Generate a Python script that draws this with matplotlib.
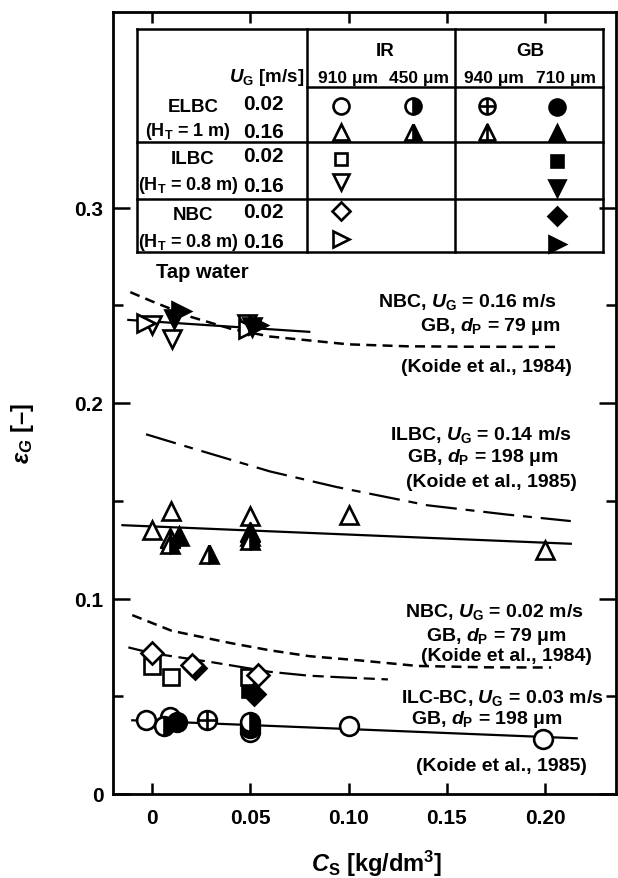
import matplotlib.pyplot as plt
import matplotlib.transforms as mtransforms
from matplotlib.path import Path
from matplotlib.lines import Line2D

plt.rcParams['font.family'] = ['Liberation Sans', 'DejaVu Sans']
plt.rcParams['font.weight'] = 'bold'
plt.rcParams['mathtext.fontset'] = 'custom'
plt.rcParams['mathtext.rm'] = 'Liberation Sans:bold'
plt.rcParams['mathtext.it'] = 'Liberation Sans:italic:bold'
plt.rcParams['mathtext.bf'] = 'Liberation Sans:bold'

# ---- data ----
# ELBC, U_G = 0.02
elbc02_ir910_x = [-0.003, 0.009, 0.05, 0.10, 0.199]
elbc02_ir910_y = [0.0377, 0.0395, 0.0316, 0.035, 0.028]
elbc02_ir450_x = [0.006, 0.05]
elbc02_ir450_y = [0.035, 0.037]
elbc02_gb940_x = [0.028]
elbc02_gb940_y = [0.0377]
elbc02_gb710_x = [0.013, 0.05]
elbc02_gb710_y = [0.037, 0.034]

# ELBC, U_G = 0.16
elbc16_ir910_x = [0.0, 0.0097, 0.05, 0.10, 0.20]
elbc16_ir910_y = [0.135, 0.1447, 0.142, 0.1425, 0.125]
elbc16_ir450_x = [0.009, 0.029, 0.05]
elbc16_ir450_y = [0.128, 0.123, 0.130]
elbc16_gb940_x = [0.009, 0.05]
elbc16_gb940_y = [0.131, 0.134]
elbc16_gb710_x = [0.014, 0.05]
elbc16_gb710_y = [0.132, 0.132]

# ILBC
ilbc02_ir910_x = [0.0, 0.0097, 0.0495]
ilbc02_ir910_y = [0.0657, 0.0596, 0.0596]
ilbc02_gb710_x = [0.05]
ilbc02_gb710_y = [0.0535]
ilbc16_ir910_x = [0.0, 0.010, 0.0485]
ilbc16_ir910_y = [0.240, 0.2328, 0.2404]
ilbc16_gb710_x = [0.011, 0.051]
ilbc16_gb710_y = [0.243, 0.239]

# NBC
nbc02_ir910_x = [0.0, 0.0204, 0.054]
nbc02_ir910_y = [0.072, 0.066, 0.061]
nbc02_gb710_x = [0.022, 0.052]
nbc02_gb710_y = [0.0645, 0.051]
nbc16_ir910_x = [-0.003, 0.049]
nbc16_ir910_y = [0.241, 0.238]
nbc16_gb710_x = [0.015, 0.054]
nbc16_gb710_y = [0.247, 0.240]

# fitted lines through the data (solid / long dash)
fit_nbc16_x = [-0.012, 0.080]
fit_nbc16_y = [0.2425, 0.2364]
fit_elbc16_x = [-0.015, 0.213]
fit_elbc16_y = [0.1375, 0.128]
fit_nbc02_x = [-0.012, 0.0, 0.02, 0.03, 0.045, 0.06, 0.08, 0.10, 0.12]
fit_nbc02_y = [0.075, 0.072, 0.069, 0.0675, 0.065, 0.0625, 0.0605, 0.0595, 0.0586]
fit_elbc02_x = [-0.010, 0.216]
fit_elbc02_y = [0.0377, 0.0285]

# literature curves
koide84_u16_x = [-0.011, 0.0, 0.02, 0.04, 0.06, 0.08, 0.10, 0.13, 0.16, 0.208]
koide84_u16_y = [0.2567, 0.252, 0.244, 0.238, 0.234, 0.232, 0.230, 0.229, 0.2288, 0.2287]
koide85_u14_x = [-0.003, 0.02, 0.04, 0.06, 0.094, 0.14, 0.18, 0.213]
koide85_u14_y = [0.184, 0.177, 0.171, 0.165, 0.157, 0.1477, 0.143, 0.1396]
koide84_u02_x = [-0.010, 0.01, 0.04, 0.06, 0.08, 0.106, 0.135, 0.17, 0.203]
koide84_u02_y = [0.0915, 0.0835, 0.0772, 0.0735, 0.0705, 0.0683, 0.0655, 0.0648, 0.0647]

x_ticks = [0, 0.05, 0.10, 0.15, 0.20]
x_ticklabels = ['0', '0.05', '0.10', '0.15', '0.20']
y_ticks = [0, 0.1, 0.2, 0.3]
y_ticklabels = ['0', '0.1', '0.2', '0.3']

# ---- figure ----
W, H = 618, 879
fig = plt.figure(figsize=(W / 100, H / 100), dpi=100)
ax = fig.add_axes([113 / W, 1 - 795 / H, (616 - 113) / W, (795 - 13) / H])
px = mtransforms.Affine2D().scale(1 / W, -1 / H).translate(0, 1) + fig.transFigure

tri_bar = Path([(0, 1), (-1, -1), (1, -1), (0, 1), (0, 1), (0, -1)],
               [Path.MOVETO, Path.LINETO, Path.LINETO, Path.CLOSEPOLY, Path.MOVETO, Path.LINETO])
circ_plus = Path.make_compound_path(Path.unit_circle(),
                                    Path([(-1, 0), (1, 0)]), Path([(0, -1), (0, 1)]))


def style(marker, face='white', fs='full', ms=13.5):
    return dict(marker=marker, ms=ms, mfc=face, mec='black', mew=1.9,
                fillstyle=fs, markerfacecoloralt='white', ls='none', zorder=4)


st = {
    'o': style('o'), 'o_half': style('o', 'black', 'right'), 'o_plus': style(circ_plus),
    'o_fill': style('o', 'black'),
    '^': style('^'), '^_half': style('^', 'black', 'right'), '^_bar': style(tri_bar),
    '^_fill': style('^', 'black'),
    's': style('s', ms=11), 's_fill': style('s', 'black', ms=11),
    'v': style('v'), 'v_fill': style('v', 'black'),
    'D': style('D', ms=11.5), 'D_fill': style('D', 'black', ms=11.5),
    '>': style('>'), '>_fill': style('>', 'black'),
}

# lines
ax.plot(fit_nbc16_x, fit_nbc16_y, color='black', lw=1.6)
ax.plot(fit_elbc16_x, fit_elbc16_y, color='black', lw=1.6)
ax.plot(fit_elbc02_x, fit_elbc02_y, color='black', lw=1.6)
ax.plot(fit_nbc02_x, fit_nbc02_y, color='black', lw=1.6, dashes=(12, 3, 5, 3))
ax.plot(koide84_u16_x, koide84_u16_y, color='black', lw=1.8, dashes=(4, 2.5))
ax.plot(koide84_u02_x, koide84_u02_y, color='black', lw=1.8, dashes=(4, 2.5))
ax.plot(koide85_u14_x, koide85_u14_y, color='black', lw=1.6, dashes=(14, 4, 4, 4))

# data points
ax.plot(elbc02_ir910_x, elbc02_ir910_y, **st['o'])
ax.plot(elbc02_gb710_x, elbc02_gb710_y, **st['o_fill'])
ax.plot(elbc02_ir450_x, elbc02_ir450_y, **st['o_half'])
ax.plot(elbc02_gb940_x, elbc02_gb940_y, **st['o_plus'])
ax.plot(elbc16_ir910_x, elbc16_ir910_y, **st['^'])
ax.plot(elbc16_gb940_x, elbc16_gb940_y, **st['^_bar'])
ax.plot(elbc16_gb710_x, elbc16_gb710_y, **st['^_fill'])
ax.plot(elbc16_ir450_x, elbc16_ir450_y, **st['^_half'])
ax.plot(ilbc02_gb710_x, ilbc02_gb710_y, **st['s_fill'])
ax.plot(ilbc02_ir910_x, ilbc02_ir910_y, **st['s'])
ax.plot(nbc02_gb710_x, nbc02_gb710_y, **st['D_fill'])
ax.plot(nbc02_ir910_x, nbc02_ir910_y, **st['D'])
ax.plot(ilbc16_ir910_x, ilbc16_ir910_y, **st['v'])
ax.plot(nbc16_ir910_x, nbc16_ir910_y, **st['>'])
ax.plot(ilbc16_gb710_x, ilbc16_gb710_y, **st['v_fill'])
ax.plot(nbc16_gb710_x, nbc16_gb710_y, **st['>_fill'])

# axes
ax.set_xlim(-0.0198, 0.236)
ax.set_ylim(0, 0.40)
ax.set_xticks(x_ticks)
ax.set_xticklabels(x_ticklabels)
ax.set_yticks(y_ticks)
ax.set_yticklabels(y_ticklabels)
ax.set_yticks([0.05, 0.15, 0.25], minor=True)
ax.tick_params(axis='x', which='major', direction='in', top=True, length=8, width=1.8,
               pad=10, labelsize=15)
ax.tick_params(axis='y', which='major', direction='in', right=True, length=12, width=1.8,
               pad=7, labelsize=15)
ax.tick_params(axis='y', which='minor', direction='in', right=True, length=7, width=1.8)
for sp in ax.spines.values():
    sp.set_linewidth(2)

fig.text(22, 434, r'$\varepsilon_G$ [–]', transform=px, rotation=90, ha='center', va='center',
         fontsize=17)
fig.text(377, 864, r'$C_\mathrm{S}$ [kg/dm$^\mathrm{3}$]', transform=px, ha='center',
         va='center', fontsize=17)

# annotations
fs_a = 14
notes = [
    (467, 302, r'NBC, $U_\mathrm{G}$ = 0.16 m/s'),
    (490, 327, r'GB, $d_\mathrm{P}$ = 79 μm'),
    (486, 368, '(Koide et al., 1984)'),
    (481, 435, r'ILBC, $U_\mathrm{G}$ = 0.14 m/s'),
    (483, 458, r'GB, $d_\mathrm{P}$ = 198 μm'),
    (491, 483, '(Koide et al., 1985)'),
    (494, 612, r'NBC, $U_\mathrm{G}$ = 0.02 m/s'),
    (496, 637, r'GB, $d_\mathrm{P}$ = 79 μm'),
    (506, 657, '(Koide et al., 1984)'),
    (502, 698, r'ILC-BC, $U_\mathrm{G}$ = 0.03 m/s'),
    (487, 720, r'GB, $d_\mathrm{P}$ = 198 μm'),
    (501, 767, '(Koide et al., 1985)'),
]
for x, y, s in notes:
    fig.text(x, y, s, transform=px, ha='center', va='center', fontsize=fs_a)
fig.text(202, 273, 'Tap water', transform=px, ha='center', va='center', fontsize=14.5)

# legend table
def hline(x0, x1, y):
    fig.add_artist(Line2D([x0, x1], [y, y], transform=px, color='black', lw=1.8))


def vline(x, y0, y1):
    fig.add_artist(Line2D([x, x], [y0, y1], transform=px, color='black', lw=1.8))


hline(137, 603, 30)
hline(137, 603, 253)
hline(307, 603, 88)
hline(137, 603, 143)
hline(137, 603, 200)
vline(137, 30, 253)
vline(603, 30, 253)
vline(307, 30, 253)
vline(455, 30, 253)

fs_t = 13.5
fig.text(385, 51, 'IR', transform=px, ha='center', va='center', fontsize=fs_t)
fig.text(530, 51, 'GB', transform=px, ha='center', va='center', fontsize=fs_t)
fig.text(304, 78, r'$U_\mathrm{G}$ [m/s]', transform=px, ha='right', va='center', fontsize=fs_t)
for x, s in [(348, '910 μm'), (419, '450 μm'), (494, '940 μm'), (566, '710 μm')]:
    fig.text(x, 79, s, transform=px, ha='center', va='center', fontsize=12.5)

rows = [
    (107, 132, 'ELBC', '(H$_\\mathrm{T}$ = 1 m)'),
    (160, 186, 'ILBC', '(H$_\\mathrm{T}$ = 0.8 m)'),
    (216, 243, 'NBC', '(H$_\\mathrm{T}$ = 0.8 m)'),
]
for y1, y2, name, ht in rows:
    fig.text(193, y1, name, transform=px, ha='center', va='center', fontsize=fs_t)
    fig.text(263, y1 - 3, '0.02', transform=px, ha='center', va='center', fontsize=15)
    fig.text(188, y2, ht, transform=px, ha='center', va='center', fontsize=13)
    fig.text(263, y2, '0.16', transform=px, ha='center', va='center', fontsize=15)

legend_marks = [
    (341, 107, 'o'), (413, 107, 'o_half'), (487, 107, 'o_plus'), (557, 108, 'o_fill'),
    (341, 133, '^'), (413, 133, '^_half'), (487, 133, '^_bar'), (557, 134, '^_fill'),
    (341, 160, 's'), (557, 162, 's_fill'),
    (341, 183, 'v'), (557, 189, 'v_fill'),
    (341, 212, 'D'), (557, 217, 'D_fill'),
    (341, 240, '>'), (557, 245, '>_fill'),
]
for x, y, key in legend_marks:
    kw = dict(st[key])
    kw['ms'] = kw['ms'] - 2
    fig.add_artist(Line2D([x], [y], transform=px, **kw))

fig.savefig('out.png', dpi=100)
